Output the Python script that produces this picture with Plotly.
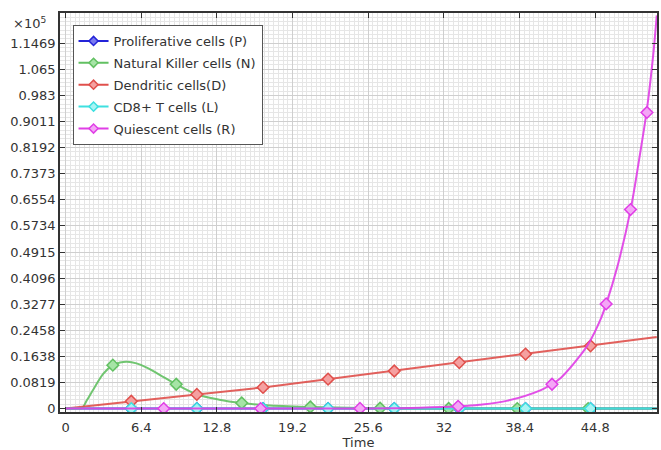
import plotly.graph_objects as go

# ---- data ----
t_P = [0, 50]
P = [0, 0]
t_L = [0, 50]
L = [0, 0]

t_N = [0, 1.0, 1.4, 1.8, 2.4, 3.2, 4.0, 4.6, 5.2, 6.0, 7.0, 8.0, 9.36, 11.1, 13.0, 14.9, 17.0, 20.7, 25.0, 30.0, 40.0, 50.0]
N = [0, 0, 150, 2600, 6300, 11000, 13640, 14450, 14700, 14200, 12600, 10500, 7650, 4500, 2800, 1760, 1050, 500, 150, 40, 0, 0]

t_D = [0, 5.56, 11.1, 16.7, 22.2, 27.8, 33.3, 38.9, 44.4, 50.0]
D = [0, 2300, 4450, 6650, 9250, 11800, 14450, 17100, 19700, 22500]

t_R = [0, 20, 25, 28, 30, 33.2, 35, 37.4, 40.2, 41.14, 41.9, 43.6, 44.2, 45.3, 45.72, 46.7, 47.78, 48.5, 49.17, 49.7, 50.0]
R = [0, 0, 50, 130, 250, 700, 1200, 2500, 5800, 7700, 9700, 17000, 20200, 28500, 32800, 45000, 62300, 78000, 94000, 111000, 123400]

# marker positions along each curve
mt_P = [5.56, 11.1, 16.7, 22.2, 27.8, 33.3, 38.9, 44.4]
mv_P = [0, 0, 0, 0, 0, 0, 0, 0]
mt_N = [4.0, 9.36, 14.9, 20.7, 26.6, 32.4, 38.2, 44.2]
mv_N = [13640, 7650, 1760, 500, 100, 30, 0, 0]
mt_D = [5.56, 11.1, 16.7, 22.2, 27.8, 33.3, 38.9, 44.4]
mv_D = [2300, 4450, 6650, 9250, 11800, 14450, 17100, 19700]
mt_L = [5.56, 11.1, 16.7, 22.2, 27.8, 33.3, 38.9, 44.4]
mv_L = [0, 0, 0, 0, 0, 0, 0, 0]
mt_R = [8.3, 16.5, 24.9, 33.2, 41.14, 45.72, 47.78, 49.17]
mv_R = [0, 0, 50, 720, 7650, 32860, 62480, 92950]

x_tickvals = [0, 6.4, 12.8, 19.2, 25.6, 32, 38.4, 44.8]
x_ticktext = ["0", "6.4", "12.8", "19.2", "25.6", "32", "38.4", "44.8"]
y_tickvals = [k * 8192 for k in range(15)]
y_ticktext = ["0", "0.0819", "0.1638", "0.2458", "0.3277", "0.4096", "0.4915", "0.5734",
              "0.6554", "0.7373", "0.8192", "0.9011", "0.983", "1.065", "1.1469"]

names = ["Proliferative cells (P)", "Natural Killer cells (N)", "Dendritic cells(D)",
         "CD8+ T cells (L)", "Quiescent cells (R)"]

series = [
    (t_P, P, mt_P, mv_P, "#2323d8", "#7a7af0", "linear"),
    (t_N, N, mt_N, mv_N, "#62c062", "#a6e4a6", "spline"),
    (t_D, D, mt_D, mv_D, "#e0504c", "#f5a0a0", "linear"),
    (t_L, L, mt_L, mv_L, "#3ee0e0", "#a8f4f4", "linear"),
    (t_R, R, mt_R, mv_R, "#e03ee6", "#f4a6f6", "spline"),
]

fig = go.Figure()
for (tx, ty, mx, my, col, fill, shape), name in zip(series, names):
    fig.add_trace(go.Scatter(x=tx, y=ty, mode="lines", line=dict(color=col, width=2, shape=shape),
                             opacity=0.9, showlegend=False, hoverinfo="skip"))
    fig.add_trace(go.Scatter(x=mx, y=my, mode="markers", showlegend=False, hoverinfo="skip",
                             marker=dict(symbol="diamond", size=9, color=fill,
                                         line=dict(color=col, width=1.5))))
for i, ((tx, ty, mx, my, col, fill, shape), name) in enumerate(zip(series, names)):
    fig.add_trace(go.Scatter(x=[None], y=[None], mode="lines+markers", name=name,
                             legendgroup="g%d" % i,
                             line=dict(color=col, width=2),
                             marker=dict(symbol="diamond", size=7, color=fill,
                                         line=dict(color=col, width=1.5))))

font = dict(family="DejaVu Sans", size=13, color="#333333")

fig.update_layout(
    width=661, height=450,
    margin=dict(l=60, r=4, t=13, b=38, autoexpand=False),
    paper_bgcolor="white", plot_bgcolor="white",
    font=font,
    showlegend=True,
    legend=dict(x=0.021, y=0.970, xanchor="left", yanchor="top",
                bgcolor="white", bordercolor="#555555", borderwidth=1,
                font=font, tracegroupgap=2, traceorder="grouped"),
    xaxis=dict(range=[-0.47, 50.02], tickmode="array", tickvals=x_tickvals, ticktext=x_ticktext,
               ticks="inside", ticklen=5, tickcolor="#333333", automargin=False,
               showline=True, linecolor="#333333", linewidth=1.5, mirror="ticks",
               showgrid=True, gridcolor="#cfcfcf", gridwidth=1,
               minor=dict(dtick=0.4, tick0=0, showgrid=True, gridcolor="#e6e6e6", gridwidth=1, ticks=""),
               zeroline=False, ticklabelstandoff=3,
               title=dict(text="Time", font=font, standoff=0)),
    yaxis=dict(range=[-1070, 124170], tickmode="array", tickvals=y_tickvals, ticktext=y_ticktext,
               ticks="inside", ticklen=5, tickcolor="#333333", automargin=False,
               showline=True, linecolor="#333333", linewidth=1.5, mirror="ticks",
               showgrid=True, gridcolor="#cfcfcf", gridwidth=1,
               minor=dict(dtick=8192 / 6, tick0=0, showgrid=True, gridcolor="#e6e6e6", gridwidth=1, ticks=""),
               zeroline=False),
    annotations=[dict(text="×10<sup>5</sup>", xref="paper", yref="paper",
                      x=-0.02, y=0.976, xanchor="right", yanchor="middle",
                      showarrow=False, font=font)],
)

fig.write_html("out.html", config={"displayModeBar": False},
               post_script="document.body.style.margin='0px';")
